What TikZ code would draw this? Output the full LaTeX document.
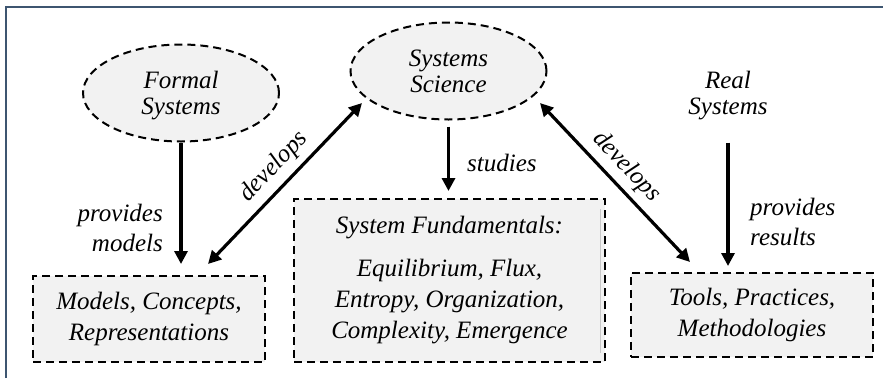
\documentclass[tikz,border=0pt]{standalone}
\usepackage{fontspec}
\setmainfont{Liberation Serif}
\usetikzlibrary{arrows.meta,shapes.geometric}
\definecolor{boxfill}{HTML}{F2F2F2}
\definecolor{framecol}{HTML}{3D5570}
\definecolor{seamgray}{HTML}{C8C8C8}
\begin{document}
\begin{tikzpicture}[x=1pt,y=-1pt,
  every node/.style={font=\fontsize{25}{26}\selectfont\itshape, align=center, inner sep=0pt},
  dashborder/.style={draw=black, line width=2pt, dash pattern=on 8pt off 5pt, fill=boxfill},
  oval/.style={dashborder, ellipse, minimum width=196pt, minimum height=97pt, text depth=0pt},
  plainoval/.style={ellipse, minimum width=196pt, minimum height=97pt, text depth=0pt},
  panel/.style={dashborder, rectangle, font=\fontsize{25}{31}\selectfont\itshape},
  tipx/.tip={Triangle[length=13pt,width=13pt]},
  link/.style={line width=3.2pt, -tipx},
  twoway/.style={line width=3.2pt, tipx-tipx},
  edgelabel/.style={font=\fontsize{25}{30}\selectfont\itshape}]
\useasboundingbox (0,0) rectangle (883,378);

% frame
\draw[framecol, line width=2pt] (5.5,378) -- (5.5,6.5) -- (883,6.5);

% top row
\node[oval] (formal) at (181,93) {Formal\\Systems};
\node[oval] (science) at (448.5,71) {Systems\\Science};
\node[plainoval] (real) at (728,93) {Real\\Systems};

% bottom row
\node[panel, minimum width=232pt, minimum height=86pt] (models) at (149,319)
  {Models, Concepts,\\Representations};
\node[panel, minimum width=311pt, minimum height=163pt] (fund) at (449.5,280.5)
  {System Fundamentals:\\[12pt]Equilibrium, Flux,\\Entropy, Organization,\\Complexity, Emergence};
\node[panel, minimum width=242pt, minimum height=84pt] (tools) at (752,315)
  {Tools, Practices,\\Methodologies};
\draw[seamgray, line width=1pt] ([xshift=-6pt,yshift=-11pt]fund.north east) -- ([xshift=-6pt,yshift=10pt]fund.south east);

% connectors
\draw[link, shorten >=11pt] (formal.south) -- (formal.south |- models.north);
\draw[link, shorten <=6pt, shorten >=7pt] (science.south) -- (science.south |- fund.north);
\draw[link, shorten <=1pt, shorten >=6pt] (real.south) -- (real.south |- tools.north);

\draw[twoway] ([xshift=59pt,yshift=11pt]models.north) -- ([xshift=-86.5pt,yshift=-32pt]science.center)
  node[pos=0.52, sloped, above, inner sep=6.5pt] (dl) {develops};
\draw[twoway] ([xshift=91.5pt,yshift=-32pt]science.center) -- ([xshift=-62pt,yshift=10pt]tools.north)
  node[pos=0.485, sloped, above, inner sep=6pt] (dr) {develops};

% edge labels
\node[edgelabel, anchor=east, align=right] (pm) at (163,228) {provides\\models};
\node[edgelabel, anchor=west] (st) at (467,163) {studies};
\node[edgelabel, anchor=west, align=left] (pr) at (750,222) {provides\\results};
\end{tikzpicture}
\end{document}
